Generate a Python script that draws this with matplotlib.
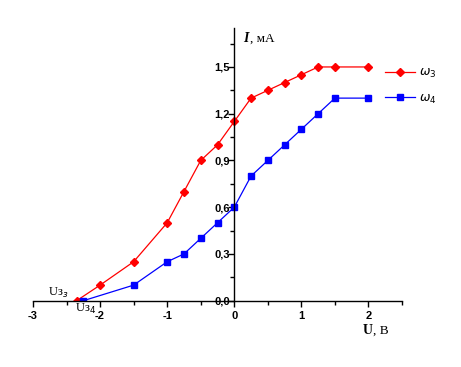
import matplotlib.pyplot as plt
from matplotlib.ticker import MultipleLocator, FuncFormatter

# ВАХ для двух частот
u3 = [-2.35, -2.0, -1.5, -1.0, -0.75, -0.5, -0.25, 0.0, 0.25, 0.5, 0.75, 1.0, 1.25, 1.5, 2.0]
i3 = [0.0, 0.1, 0.25, 0.5, 0.7, 0.9, 1.0, 1.15, 1.3, 1.35, 1.4, 1.45, 1.5, 1.5, 1.5]
u4 = [-2.25, -1.5, -1.0, -0.75, -0.5, -0.25, 0.0, 0.25, 0.5, 0.75, 1.0, 1.25, 1.5, 2.0]
i4 = [0.0, 0.1, 0.25, 0.3, 0.4, 0.5, 0.6, 0.8, 0.9, 1.0, 1.1, 1.2, 1.3, 1.3]

fig = plt.figure(figsize=(4.61, 3.67), dpi=100)
ax = fig.add_axes([33/461, 1 - 300.7/367, (402 - 33)/461, (300.7 - 28)/367])

ax.plot(u3, i3, color="red", lw=0.9, marker="D", ms=4, label=r"$\omega_3$")
ax.plot(u4, i4, color="blue", lw=0.9, marker="s", ms=4, label=r"$\omega_4$")

ax.set_xlim(-3, 2.5)
ax.set_ylim(0, 1.75)

# оси как в Origin: Y через ноль
ax.spines["left"].set_position(("data", 0))
ax.spines["right"].set_visible(False)
ax.spines["top"].set_visible(False)
for s in ("left", "bottom"):
    ax.spines[s].set_linewidth(1.0)

ax.xaxis.set_major_locator(MultipleLocator(1))
ax.xaxis.set_minor_locator(MultipleLocator(0.5))
ax.yaxis.set_major_locator(MultipleLocator(0.3))
ax.yaxis.set_minor_locator(MultipleLocator(0.15))
ax.yaxis.set_major_formatter(FuncFormatter(lambda v, p: f"{v:.1f}".replace(".", ",")))
ax.xaxis.set_major_formatter(FuncFormatter(lambda v, p: f"{v:.0f}"))

ax.tick_params(axis="both", which="major", length=4, width=1, labelsize=8)
ax.tick_params(axis="both", which="minor", length=3, width=1)
ax.tick_params(axis="y", pad=-1)
for lab in ax.get_xticklabels() + ax.get_yticklabels():
    lab.set_fontfamily("Liberation Sans")
    lab.set_fontweight("bold")

# подписи осей
ax.text(0.13, 1.68, "I", fontsize=10, family="Liberation Serif", style="italic",
        weight="bold", ha="left", va="center")
ax.text(0.23, 1.68, ", мА", fontsize=9.5, family="Liberation Serif", ha="left", va="center")
ax.text(1.92, -0.19, "U", fontsize=10, family="Liberation Serif", weight="bold",
        ha="left", va="center", clip_on=False)
ax.text(2.07, -0.19, ", В", fontsize=9.5, family="Liberation Serif",
        ha="left", va="center", clip_on=False)

ax.text(-2.78, 0.05, "Uз$_з$", fontsize=9, family="Liberation Serif", ha="left", va="center")
ax.text(-2.37, -0.055, "Uз$_4$", fontsize=9, family="Liberation Serif", ha="left", va="center",
        clip_on=False)

ax.legend(loc="upper left", bbox_to_anchor=(374/461, 1 - 55/367), bbox_transform=fig.transFigure,
          frameon=False, handlelength=2.4, fontsize=9, labelspacing=0.9, handletextpad=0.3)

fig.savefig("out.png", dpi=100)
